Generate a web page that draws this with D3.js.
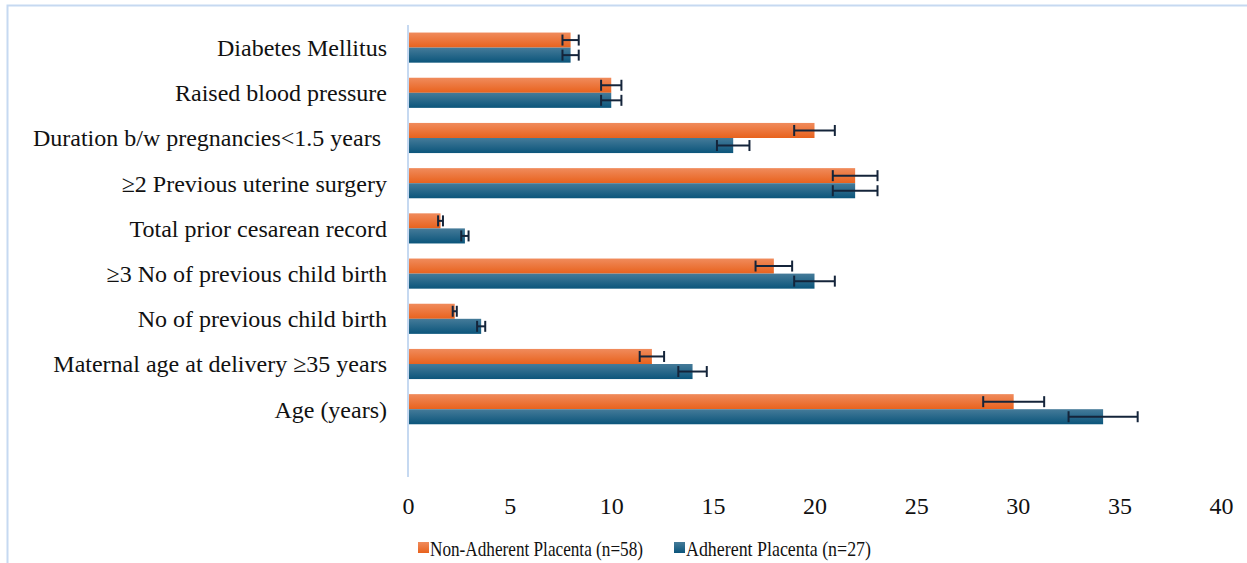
<!DOCTYPE html>
<html>
<head>
<meta charset="utf-8">
<script src="https://cdn.jsdelivr.net/npm/d3@7"></script>
<style>
  body { margin: 0; background: #fff; }
</style>
</head>
<body>
<div id="chart"></div>
<script>
var categories = [
  "Diabetes Mellitus",
  "Raised blood pressure",
  "Duration b/w pregnancies<1.5 years ",
  "\u22652 Previous uterine surgery",
  "Total prior cesarean record",
  "\u22653 No of previous child birth",
  "No of previous child birth",
  "Maternal age at delivery \u226535 years",
  "Age (years)",
  ""
];
var nonAdherent = [8, 10, 20, 22, 1.6, 18, 2.3, 12, 29.8];
var nonAdherentErr = [0.4, 0.5, 1.0, 1.1, 0.12, 0.9, 0.1, 0.6, 1.5];
var adherent = [8, 10, 16, 22, 2.8, 20, 3.6, 14, 34.2];
var adherentErr = [0.4, 0.5, 0.8, 1.1, 0.18, 1.0, 0.2, 0.7, 1.7];
var seriesNames = ["Non-Adherent Placenta (n=58)", "Adherent Placenta (n=27)"];
var xTicks = [0, 5, 10, 15, 20, 25, 30, 35, 40];

var FONT = "'Liberation Serif', 'Times New Roman', Tinos, 'DejaVu Serif', serif";
var w = 1247;
var h = 563;

var svg = d3.select("#chart")
  .append("svg")
  .attr("width", w)
  .attr("height", h)
  .style("font-family", FONT);

var defs = svg.append("defs");
var gradOrange = defs.append("linearGradient").attr("id", "gOrange")
  .attr("x1", 0).attr("y1", 0).attr("x2", 0).attr("y2", 1);
gradOrange.append("stop").attr("offset", "0%").attr("stop-color", "#f08b5c");
gradOrange.append("stop").attr("offset", "100%").attr("stop-color", "#e8621d");
var gradBlue = defs.append("linearGradient").attr("id", "gBlue")
  .attr("x1", 0).attr("y1", 0).attr("x2", 0).attr("y2", 1);
gradBlue.append("stop").attr("offset", "0%").attr("stop-color", "#457b99");
gradBlue.append("stop").attr("offset", "100%").attr("stop-color", "#0b557b");

// outer border
svg.append("rect")
  .attr("x", 7.5).attr("y", 5.5)
  .attr("width", 1260).attr("height", 580)
  .attr("fill", "none")
  .attr("stroke", "#c6d9f1")
  .attr("stroke-width", 2);

var x = d3.scaleLinear()
  .domain([0, 40])
  .range([408, 1221]);

var y = d3.scaleBand()
  .domain(d3.range(categories.length))
  .range([25, 477]);

var inner = d3.scaleBand()
  .domain([0, 1])
  .range([0, y.bandwidth()])
  .paddingOuter(0.5)
  .paddingInner(0);

var rows = d3.range(nonAdherent.length);
var series = [
  { vals: nonAdherent, err: nonAdherentErr, fill: "url(#gOrange)" },
  { vals: adherent, err: adherentErr, fill: "url(#gBlue)" }
];

series.forEach(function(s, si) {
  svg.append("g")
    .selectAll("rect")
    .data(rows)
    .enter()
    .append("rect")
    .attr("x", x(0))
    .attr("y", function(i) { return y(i) + inner(si); })
    .attr("width", function(i) { return x(s.vals[i]) - x(0); })
    .attr("height", inner.bandwidth())
    .attr("fill", s.fill);
});

// error bars
series.forEach(function(s, si) {
  var g = svg.append("g")
    .attr("stroke", "#14243a")
    .attr("stroke-width", 2);
  rows.forEach(function(i) {
    var cy = y(i) + inner(si) + inner.bandwidth() / 2;
    var x0 = x(s.vals[i] - s.err[i]);
    var x1 = x(s.vals[i] + s.err[i]);
    g.append("line").attr("x1", x0).attr("x2", x1).attr("y1", cy).attr("y2", cy);
    g.append("line").attr("x1", x0).attr("x2", x0).attr("y1", cy - 5.5).attr("y2", cy + 5.5);
    g.append("line").attr("x1", x1).attr("x2", x1).attr("y1", cy - 5.5).attr("y2", cy + 5.5);
  });
});

// vertical axis line
svg.append("line")
  .attr("x1", x(0)).attr("x2", x(0))
  .attr("y1", 25).attr("y2", 477)
  .attr("stroke", "#c6d9f1")
  .attr("stroke-width", 2);

// category labels
svg.append("g")
  .selectAll("text")
  .data(categories)
  .enter()
  .append("text")
  .attr("x", 387)
  .attr("y", function(d, i) { return y(i) + y.bandwidth() / 2; })
  .attr("dy", "0.35em")
  .attr("text-anchor", "end")
  .attr("font-size", 24)
  .attr("fill", "#111")
  .style("font-family", FONT)
  .style("white-space", "pre")
  .text(function(d) { return d; });

// x tick labels
var xAxis = d3.axisBottom(x).tickValues(xTicks).tickSize(0).tickPadding(0);
var ax = svg.append("g")
  .attr("transform", "translate(0,506)")
  .call(xAxis);
ax.select(".domain").remove();
ax.selectAll("text")
  .attr("font-size", 24)
  .attr("dy", "0.35em")
  .attr("fill", "#111")
  .style("font-family", FONT);

// legend
var legend = svg.append("g");
var legX = [418, 674];
var legLen = [213, 185];
seriesNames.forEach(function(n, i) {
  legend.append("rect")
    .attr("x", legX[i]).attr("y", 542)
    .attr("width", 11).attr("height", 11)
    .attr("fill", i === 0 ? "url(#gOrange)" : "url(#gBlue)");
  legend.append("text")
    .attr("x", legX[i] + 12).attr("y", 556)
    .attr("font-size", 22)
    .attr("fill", "#111")
    .attr("textLength", legLen[i])
    .attr("lengthAdjust", "spacingAndGlyphs")
    .style("font-family", FONT)
    .text(n);
});
</script>
</body>
</html>
